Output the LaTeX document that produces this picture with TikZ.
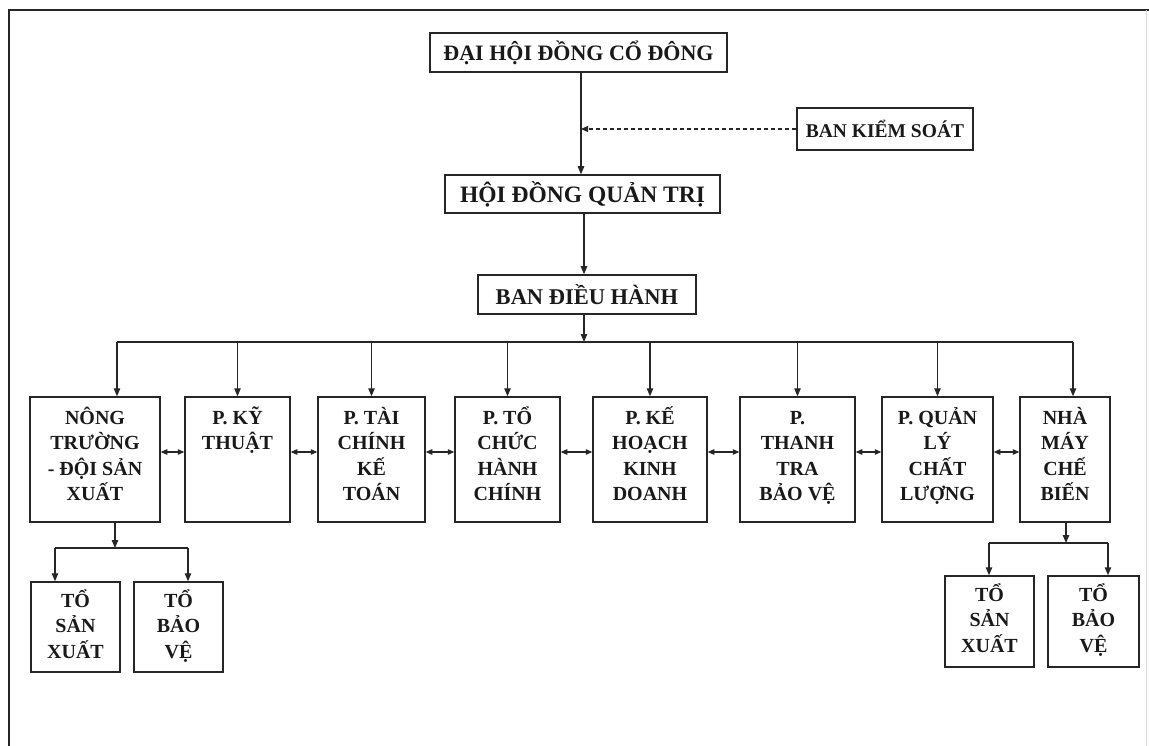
\documentclass[tikz,border=0pt]{standalone}
\usepackage{fontspec}
\setmainfont{Liberation Serif}
\usetikzlibrary{arrows.meta}
\newcommand{\firstline}{\vphantom{ỔẾỸ}}
\begin{document}
\begin{tikzpicture}[x=1pt,y=-1pt,
  box/.style={draw=black!85, line width=1.5pt, rectangle, inner sep=0pt},
  txt/.style={align=center, inner sep=0pt, font=\fontsize{20}{25.5}\selectfont\bfseries, text=black!90},
  conn/.style={draw=black!85, line width=1.2pt},
  arr/.style={conn, -{Triangle[length=8pt,width=6.5pt]}},
  darr/.style={conn, {Triangle[length=6.5pt,width=5.5pt]}-{Triangle[length=6.5pt,width=5.5pt]}},
  dasharr/.style={conn, line width=1.2pt, dash pattern=on 4pt off 3pt, -{Triangle[length=7pt,width=6pt]}}
]
\useasboundingbox (0,0) rectangle (1149,746);
% frame
\coordinate (f1) at (9,10);
\coordinate (f2) at (1149,10);
\coordinate (f3) at (9,746);
\coordinate (f4) at (1146,10);
\coordinate (f5) at (1146,746);
\draw[line width=1.8pt, black!85] (f2) -- (f1) -- (f3);
\draw[line width=0.8pt, black!15] (f4) -- (f5);

% top boxes
\node[box, minimum width=297pt, minimum height=39pt] (top) at (578.5,52.5) {};
\node[txt, font=\fontsize{22}{26}\selectfont\bfseries] (topt) at (top.center) {ĐẠI HỘI ĐỒNG CỔ ĐÔNG};
\node[box, minimum width=176pt, minimum height=42pt] (bks) at (885,129) {};
\node[txt, font=\fontsize{19.5}{26}\selectfont\bfseries] (bkst) at (bks.center) {BAN KIỂM SOÁT};
\node[box, minimum width=275pt, minimum height=38pt] (hdqt) at (582.5,194) {};
\node[txt, font=\fontsize{23.5}{26}\selectfont\bfseries] (hdqtt) at (hdqt.center) {HỘI ĐỒNG QUẢN TRỊ};
\node[box, minimum width=218pt, minimum height=39pt] (bdh) at (587,294.5) {};
\node[txt, font=\fontsize{22.5}{26}\selectfont\bfseries] (bdht) at (bdh.center) {BAN ĐIỀU HÀNH};

% main row
\foreach \n/\cx/\w in {n1/95/130, n2/237.5/105, n3/371.5/107, n4/507.5/105, n5/650/114, n6/797.5/115, n7/937.5/111, n8/1065/90}{
  \node[box, minimum width=\w pt, minimum height=125pt] (\n) at (\cx,459.5) {};
}
\node[txt, anchor=north] (n1t) at ([yshift=-10pt]n1.north) {\firstline NÔNG\\TRƯỜNG\\- ĐỘI SẢN\\XUẤT};
\node[txt, anchor=north] (n2t) at ([yshift=-10pt]n2.north) {\firstline P. KỸ\\THUẬT};
\node[txt, anchor=north] (n3t) at ([yshift=-10pt]n3.north) {\firstline P. TÀI\\CHÍNH\\KẾ\\TOÁN};
\node[txt, anchor=north] (n4t) at ([yshift=-10pt]n4.north) {\firstline P. TỔ\\CHỨC\\HÀNH\\CHÍNH};
\node[txt, anchor=north] (n5t) at ([yshift=-10pt]n5.north) {\firstline P. KẾ\\HOẠCH\\KINH\\DOANH};
\node[txt, anchor=north] (n6t) at ([yshift=-10pt]n6.north) {\firstline P.\\THANH\\TRA\\BẢO VỆ};
\node[txt, anchor=north] (n7t) at ([yshift=-10pt]n7.north) {\firstline P. QUẢN\\LÝ\\CHẤT\\LƯỢNG};
\node[txt, anchor=north] (n8t) at ([yshift=-10pt]n8.north) {\firstline NHÀ\\MÁY\\CHẾ\\BIẾN};

% sub boxes
\node[box, minimum width=89pt, minimum height=90pt] (s1) at (75.5,627) {};
\node[box, minimum width=89pt, minimum height=90pt] (s2) at (178.5,627) {};
\node[box, minimum width=89pt, minimum height=91pt] (s3) at (989.5,621.5) {};
\node[box, minimum width=91pt, minimum height=91pt] (s4) at (1093.5,621.5) {};
\node[txt, anchor=north] (s1t) at ([yshift=-8pt]s1.north) {\firstline TỔ\\SẢN\\XUẤT};
\node[txt, anchor=north] (s2t) at ([yshift=-8pt]s2.north) {\firstline TỔ\\BẢO\\VỆ};
\node[txt, anchor=north] (s3t) at ([yshift=-8pt]s3.north) {\firstline TỔ\\SẢN\\XUẤT};
\node[txt, anchor=north] (s4t) at ([yshift=-8pt]s4.north) {\firstline TỔ\\BẢO\\VỆ};

% spine
\coordinate (sp) at (581,0);
\coordinate (sp2) at (584,0);
\draw[arr] (top.south -| sp) -- (hdqt.north -| sp);
\draw[dasharr] (bks.west) -- (bks.west -| sp);
\draw[arr] (hdqt.south -| sp2) -- (bdh.north -| sp2);
\coordinate (bus) at (584,342);
\draw[arr] (bdh.south -| bus) -- (bus);

% bus and drops
\coordinate (d1) at (117,342);
\coordinate (d2) at (237.5,342);
\coordinate (d3) at (371.5,342);
\coordinate (d4) at (507.5,342);
\coordinate (d5) at (650,342);
\coordinate (d6) at (797.5,342);
\coordinate (d7) at (937.5,342);
\coordinate (d8) at (1073,342);
\draw[conn] (d1) -- (d8);
\draw[arr] (d1) -- (d1 |- n1.north);
\draw[arr] (d2) -- (d2 |- n2.north);
\draw[arr] (d3) -- (d3 |- n3.north);
\draw[arr] (d4) -- (d4 |- n4.north);
\draw[arr] (d5) -- (d5 |- n5.north);
\draw[arr] (d6) -- (d6 |- n6.north);
\draw[arr] (d7) -- (d7 |- n7.north);
\draw[arr] (d8) -- (d8 |- n8.north);

% horizontal double arrows
\coordinate (ah) at (0,452);
\draw[darr] (n1.east |- ah) -- (n2.west |- ah);
\draw[darr] (n2.east |- ah) -- (n3.west |- ah);
\draw[darr] (n3.east |- ah) -- (n4.west |- ah);
\draw[darr] (n4.east |- ah) -- (n5.west |- ah);
\draw[darr] (n5.east |- ah) -- (n6.west |- ah);
\draw[darr] (n6.east |- ah) -- (n7.west |- ah);
\draw[darr] (n7.east |- ah) -- (n8.west |- ah);

% left sub-tree
\coordinate (lb) at (115,548);
\coordinate (lb1) at (55,548);
\coordinate (lb2) at (188,548);
\draw[arr] (n1.south -| lb) -- (lb);
\draw[conn] (lb1) -- (lb2);
\draw[arr] (lb1) -- (lb1 |- s1.north);
\draw[arr] (lb2) -- (lb2 |- s2.north);

% right sub-tree
\coordinate (rb) at (1066,543);
\coordinate (rb1) at (989,543);
\coordinate (rb2) at (1108,543);
\draw[arr] (n8.south -| rb) -- (rb);
\draw[conn] (rb1) -- (rb2);
\draw[arr] (rb1) -- (rb1 |- s3.north);
\draw[arr] (rb2) -- (rb2 |- s4.north);
\end{tikzpicture}
\end{document}
